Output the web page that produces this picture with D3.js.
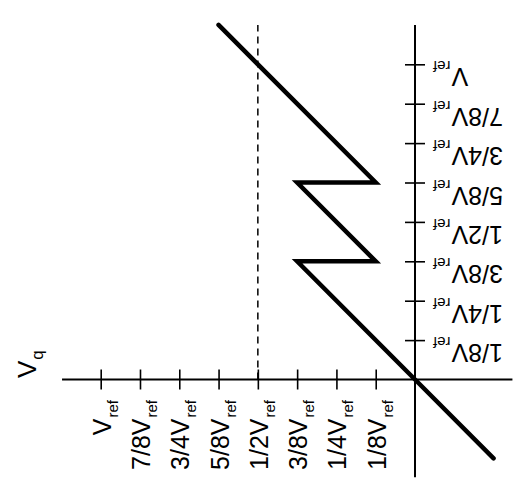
<!DOCTYPE html>
<html>
<head>
<meta charset="utf-8">
<script src="https://cdn.jsdelivr.net/npm/d3@7"></script>
<style>
  html, body { margin: 0; padding: 0; background: #fff; }
  svg { display: block; }
  text { font-family: "Liberation Sans", Arial, Helvetica, sans-serif; fill: #000; }
</style>
</head>
<body>
<svg id="chart" width="515" height="487"></svg>
<script>
// Transfer characteristic, values in units of Vref
const vinValues = [-0.25, 0, 0.375, 0.125, 0.375, 0.125, 0.625];
const vqValues  = [-0.25, 0, 0.375, 0.375, 0.625, 0.625, 1.125];

// Tick positions and their fraction labels (each followed by "V" with subscript "ref")
const tickValues = [0.125, 0.25, 0.375, 0.5, 0.625, 0.75, 0.875, 1];
const tickFractions = ["1/8", "1/4", "3/8", "1/2", "5/8", "3/4", "7/8", ""];

// Reference level drawn as a dashed guide
const guideValue = [0.5];

// Axis extents (Vref units)
const xAxisExtent = [1.123, -0.31];
const yAxisExtent = [1.125, -0.31];

const svg = d3.select("#chart");

// Horizontal axis grows to the left, vertical axis grows upward
const x = d3.scaleLinear().domain([0, 1]).range([415, 100.7]);
const y = d3.scaleLinear().domain([0, 1]).range([379.5, 64.3]);

// Axis lines
svg.append("line")
  .attr("x1", x(xAxisExtent[0])).attr("x2", x(xAxisExtent[1]))
  .attr("y1", y(0)).attr("y2", y(0))
  .attr("stroke", "#000").attr("stroke-width", 2);
svg.append("line")
  .attr("x1", x(0)).attr("x2", x(0))
  .attr("y1", y(yAxisExtent[0])).attr("y2", y(yAxisExtent[1]))
  .attr("stroke", "#000").attr("stroke-width", 2);

// Tick marks crossing each axis
const tickLen = 20;
const xAxisG = svg.append("g")
  .attr("transform", `translate(0,${y(0) - tickLen / 2})`)
  .call(d3.axisBottom(x).tickValues(tickValues).tickSize(tickLen).tickFormat(""));
const yAxisG = svg.append("g")
  .attr("transform", `translate(${x(0) - tickLen / 2},0)`)
  .call(d3.axisRight(y).tickValues(tickValues).tickSize(tickLen).tickFormat(""));
[xAxisG, yAxisG].forEach(g => {
  g.select(".domain").remove();
  g.selectAll(".tick line").attr("stroke", "#000").attr("stroke-width", 1.6);
});

// Dashed guide at 1/2 Vref
svg.selectAll("line.guide").data(guideValue).join("line")
  .attr("class", "guide")
  .attr("x1", d => x(d)).attr("x2", d => x(d))
  .attr("y1", y(0)).attr("y2", y(yAxisExtent[0]))
  .attr("stroke", "#000").attr("stroke-width", 1.5)
  .attr("stroke-dasharray", "7,5");

// Transfer curve
const pts = vinValues.map((v, i) => [v, vqValues[i]]);
svg.append("path")
  .datum(pts)
  .attr("d", d3.line().x(d => x(d[0])).y(d => y(d[1])))
  .attr("fill", "none")
  .attr("stroke", "#000")
  .attr("stroke-width", 4.5)
  .attr("stroke-linejoin", "miter")
  .attr("stroke-linecap", "round");

// Label builder: fraction + "V" + subscript "ref"
const mainSize = 25, subSize = 15;
function addLabel(sel, frac) {
  sel.append("tspan").attr("font-size", mainSize).text(frac + "V");
  sel.append("tspan").attr("font-size", subSize).attr("dx", 1).attr("dy", 7).text("ref");
}

// Horizontal axis labels, reading bottom to top
tickValues.forEach((v, i) => {
  const t = svg.append("text")
    .attr("text-anchor", "end")
    .attr("transform", `translate(${x(v) + 10},400) rotate(-90)`);
  addLabel(t, tickFractions[i]);
});

// Vertical axis labels, turned upside down
tickValues.forEach((v, i) => {
  const t = svg.append("text")
    .attr("text-anchor", "end")
    .attr("transform", `translate(433,${y(v) + 4}) rotate(180)`);
  addLabel(t, tickFractions[i]);
});

// Output axis name
const vq = svg.append("text")
  .attr("text-anchor", "start")
  .attr("transform", "translate(36,378) rotate(-90)");
vq.append("tspan").attr("font-size", 26).text("V");
vq.append("tspan").attr("font-size", 17).attr("dx", 1).attr("dy", 7).text("q");
</script>
</body>
</html>
